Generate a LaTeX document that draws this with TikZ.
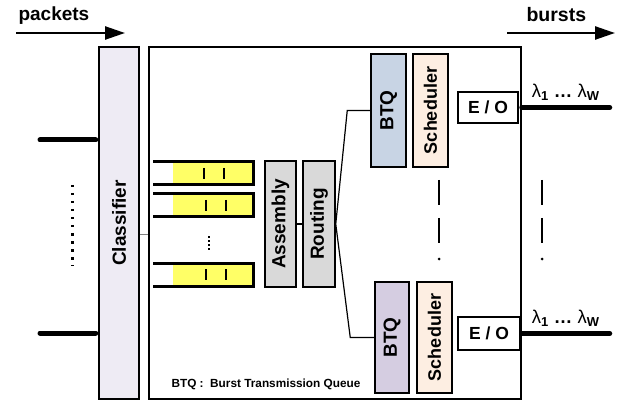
\documentclass[tikz,border=0pt]{standalone}
\usepackage{fontspec}
\usepackage{graphicx}
\setmainfont{Liberation Sans}
\usetikzlibrary{arrows.meta}

\definecolor{clsfill}{RGB}{238,235,244}
\definecolor{btqblue}{RGB}{200,212,228}
\definecolor{btqlilac}{RGB}{213,205,225}
\definecolor{schfill}{RGB}{253,238,226}
\definecolor{asmgray}{RGB}{217,217,217}
\definecolor{qyellow}{RGB}{255,255,102}

\newcommand{\blockfont}{\bfseries\fontsize{19}{21}\selectfont}
\newcommand{\schedfont}{\bfseries\fontsize{18}{20}\selectfont}

\begin{document}
\begin{tikzpicture}[x=1pt,y=-1pt,
    blk/.style={draw,line width=1.5pt,inner sep=0pt},
    fiber/.style={line width=5pt,line cap=round},
    flow/.style={line width=2.5pt,-{Triangle[length=20pt,width=13pt]}},
    qwall/.style={line width=3pt},
    gapbar/.style={line width=2.5pt}]
    \useasboundingbox (0,0) rectangle (619,401);

    % Classifier and main block
    \node[blk,fill=clsfill,minimum width=40pt,minimum height=352pt,font=\blockfont] (cls) at (119,223) {\rotatebox{90}{Classifier}};
    \node[blk,minimum width=372pt,minimum height=352pt] (core) at (335,223) {};
    \draw[gray,thin] ([yshift=-11pt]cls.east) -- ([yshift=-11pt]core.west);

    % Input links
    \coordinate (in1) at (40,140);
    \coordinate (in2) at (40,333);
    \draw[fiber,shorten >=2.5pt] (in1) -- (in1 -| cls.west);
    \draw[fiber,shorten >=2.5pt] (in2) -- (in2 -| cls.west);
    \draw[line width=3pt,dash pattern=on 2.5pt off 5.5pt] (72,185) -- (72,266);

    % Queues
    \foreach \i/\y/\d in {1/173.5/0,2/205.5/2,3/274.5/2}{
        \fill[qyellow] (173,\y-11.5) rectangle (252,\y+11.5);
        \draw[qwall] (153,\y-11.5) -- (253,\y-11.5) -- (253,\y+11.5) -- (153,\y+11.5);
        \draw[line width=1.8pt] (204+\d,\y-5.5) -- (204+\d,\y+5.5) (224+\d,\y-5.5) -- (224+\d,\y+5.5);
    }
    \draw[line width=1.5pt,dash pattern=on 1.5pt off 2.5pt] (209,236) -- (209,251);

    % Assembly and routing
    \node[blk,fill=asmgray,minimum width=31pt,minimum height=126pt,font=\blockfont] (asm) at (280.5,224) {\rotatebox{90}{Assembly}};
    \node[blk,fill=asmgray,minimum width=32pt,minimum height=126pt,font=\blockfont] (rout) at (319,224) {\rotatebox{90}{Routing}};
    \draw[line width=1.2pt] (asm) -- (rout);

    % Transmission queues and schedulers
    \node[blk,fill=btqblue,minimum width=35pt,minimum height=113pt,font=\blockfont] (btq1) at (388.5,110.5) {\rotatebox{90}{BTQ}};
    \node[blk,fill=schfill,minimum width=35pt,minimum height=113pt,font=\schedfont] (sch1) at (430.5,110.5) {\rotatebox{90}{Scheduler}};
    \node[blk,fill=btqlilac,minimum width=34pt,minimum height=111pt,font=\blockfont] (btq2) at (392,337.5) {\rotatebox{90}{BTQ}};
    \node[blk,fill=schfill,minimum width=35pt,minimum height=111pt,font=\schedfont] (sch2) at (434.5,337.5) {\rotatebox{90}{Scheduler}};
    \draw[line width=1.2pt] (rout.east) -- ([xshift=-23pt]btq1.west) -- (btq1.west);
    \draw[line width=1.2pt] (rout.east) -- ([xshift=-24pt]btq2.west) -- (btq2.west);

    % E/O converters
    \node[blk,minimum width=60pt,minimum height=31pt,font=\bfseries\fontsize{17.5}{20}\selectfont] (eo1) at (488,107.5) {E / O};
    \node[blk,minimum width=62pt,minimum height=33pt,font=\bfseries\fontsize{17.5}{20}\selectfont] (eo2) at (489,333.5) {E / O};

    % Output links
    \draw[fiber] (eo1.east -| core.east) -- ++(88,0)
        node[midway,above=1pt,font=\fontsize{18.5}{20}\selectfont] (lam1) {λ\textsubscript{\bfseries 1} \textbf{…} λ\textsubscript{\bfseries W}};
    \draw[fiber] (eo2.east -| core.east) -- ++(88,0)
        node[midway,above=1pt,font=\fontsize{18.5}{20}\selectfont] (lam2) {λ\textsubscript{\bfseries 1} \textbf{…} λ\textsubscript{\bfseries W}};

    % Continuation marks
    \foreach \x in {439,542}{
        \draw[gapbar] (\x,180) -- (\x,205) (\x,218) -- (\x,243);
        \fill (\x,259) circle (1.5pt);
    }

    % Flow arrows
    \coordinate (pktA) at (16,33);
    \coordinate (pktB) at (125,33);
    \draw[flow] (pktA) -- (pktB);
    \node[anchor=base west,font=\blockfont] (pktlbl) at (15,21) {packets};
    \coordinate (brsA) at (507,33);
    \coordinate (brsB) at (615,33);
    \draw[flow] (brsA) -- (brsB);
    \node[anchor=base west,font=\bfseries\fontsize{19.5}{21}\selectfont] (brslbl) at (523,22) {bursts};

    % Legend
    \node[anchor=base west,font=\bfseries\fontsize{11.8}{14}\selectfont] (legend) at (168,387) {BTQ :\ \ Burst Transmission Queue};
\end{tikzpicture}
\end{document}
